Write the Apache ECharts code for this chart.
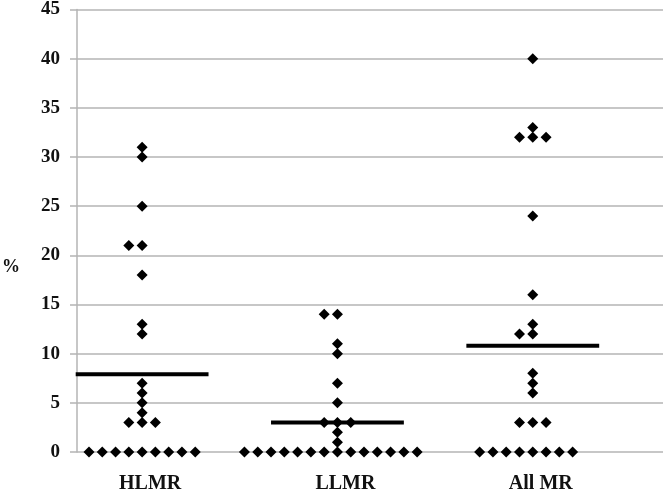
<!DOCTYPE html>
<html>
<head>
<meta charset="utf-8">
<script src="https://cdn.jsdelivr.net/npm/echarts@6/dist/echarts.min.js"></script>
<style>html,body{margin:0;padding:0;background:#fff;}#c{width:666px;height:494px;}</style>
</head>
<body>
<div id="c"></div>
<script>
const categories = ['HLMR', 'LLMR', 'All MR'];
const hlmrValues = [31, 30, 25, 21, 21, 18, 13, 12, 7, 6, 5, 4, 3, 3, 3, 0, 0, 0, 0, 0, 0, 0, 0, 0, 0];
const llmrValues = [14, 14, 11, 10, 7, 5, 3, 3, 3, 2, 1, 0, 0, 0, 0, 0, 0, 0, 0, 0, 0, 0, 0, 0, 0];
const allMrValues = [40, 33, 32, 32, 32, 24, 16, 13, 12, 12, 8, 7, 6, 3, 3, 3, 0, 0, 0, 0, 0, 0, 0, 0];
const centerLineValues = [7.9, 3.0, 10.8];
const yTickValues = [0, 5, 10, 15, 20, 25, 30, 35, 40, 45];

const groups = [hlmrValues, llmrValues, allMrValues];
const STEP = 0.068;      // horizontal spacing of stacked dots (x-axis units)
const HALF = 0.34;       // half width of the summary line

// Build dot-plot points: equal values are spread side by side around the category position
const points = [];
groups.forEach((vals, gi) => {
  const counts = {};
  vals.forEach(v => { counts[v] = (counts[v] || 0) + 1; });
  Object.keys(counts).forEach(key => {
    const n = counts[key];
    for (let i = 0; i < n; i++) {
      const k = i - Math.floor(n / 2);
      points.push([gi + 1 + k * STEP, Number(key)]);
    }
  });
});

const lineSeries = centerLineValues.map((m, gi) => ({
  type: 'line',
  data: [[gi + 1 - HALF, m], [gi + 1 + HALF, m]],
  symbol: 'none',
  lineStyle: { color: '#000', width: 4 },
  silent: true,
  z: 3
}));

const chart = echarts.init(document.getElementById('c'), null, { renderer: 'canvas' });
const fontFam = '"Liberation Serif", "Times New Roman", serif';
chart.setOption({
  animation: false,
  backgroundColor: '#fff',
  grid: { left: 77, right: 3, top: 7, bottom: 40, containLabel: false },
  xAxis: {
    type: 'value',
    min: 2 / 3,
    max: 11 / 3,
    axisLine: { show: false },
    axisTick: { show: false },
    splitLine: { show: false },
    axisLabel: {
      customValues: [1, 2, 3],
      formatter: v => categories[Math.round(v) - 1],
      fontFamily: fontFam,
      fontWeight: 'bold',
      fontSize: 20,
      color: '#111',
      margin: 22,
      padding: [0, 0, 0, 16]
    }
  },
  yAxis: {
    type: 'value',
    min: yTickValues[0],
    max: yTickValues[yTickValues.length - 1],
    interval: 5,
    axisLine: { show: true, lineStyle: { color: '#b4b4b4', width: 1.5 } },
    axisTick: { show: true, length: 7, lineStyle: { color: '#b4b4b4', width: 1.5 } },
    splitLine: { show: true, lineStyle: { color: '#b4b4b4', width: 1.5 } },
    axisLabel: {
      fontFamily: fontFam,
      fontWeight: 'bold',
      fontSize: 19,
      color: '#111',
      margin: 17
    }
  },
  graphic: [{
    type: 'text',
    left: 2,
    top: 258,
    style: { text: '%', font: 'bold 18px ' + fontFam, fill: '#111' }
  }],
  series: [{
    type: 'scatter',
    data: points,
    symbol: 'diamond',
    symbolSize: 11,
    itemStyle: { color: '#000', opacity: 1 },
    z: 4
  }].concat(lineSeries)
});
</script>
</body>
</html>
